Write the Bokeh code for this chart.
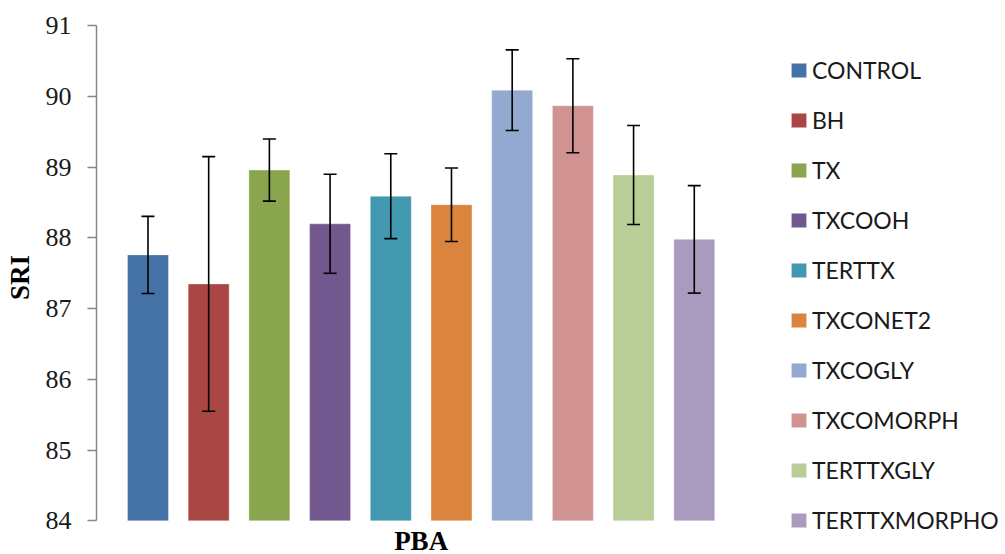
from bokeh.plotting import figure
from bokeh.models import (ColumnDataSource, Range1d, FixedTicker, Whisker, TeeHead,
                          Legend, LegendItem, Label)
from bokeh.embed import file_html
from bokeh.resources import INLINE

categories = ["CONTROL", "BH", "TX", "TXCOOH", "TERTTX", "TXCONET2",
              "TXCOGLY", "TXCOMORPH", "TERTTXGLY", "TERTTXMORPHO"]
sri = [87.76, 87.35, 88.96, 88.20, 88.59, 88.47, 90.09, 89.87, 88.89, 87.98]
sd = [0.545, 1.80, 0.44, 0.70, 0.60, 0.52, 0.57, 0.665, 0.70, 0.76]
colors = ["#4572A7", "#AA4643", "#89A54E", "#71588F", "#4198AF",
          "#DB843D", "#93A9CF", "#D19392", "#B9CD96", "#A99BBD"]
y_ticks = [84, 85, 86, 87, 88, 89, 90, 91]
x_title = "PBA"
y_title = "SRI"

src = ColumnDataSource(dict(
    x=list(range(len(categories))),
    top=sri,
    upper=[v + s for v, s in zip(sri, sd)],
    lower=[v - s for v, s in zip(sri, sd)],
    color=colors,
    name=categories,
))

# frame spans from the value axis to the right/bottom edges so that the
# legend and the category label can sit inside it
p = figure(width=1005, height=554, output_backend="svg", toolbar_location=None,
           x_range=Range1d(-0.848, 14.127), y_range=Range1d(83.5234, 91.3578),
           x_axis_location=None,
           min_border_left=96, min_border_right=0, min_border_top=0,
           min_border_bottom=0)
p.outline_line_color = None
p.background_fill_color = "white"
p.border_fill_color = "white"
p.grid.visible = False

yax = p.yaxis[0]
yax.ticker = FixedTicker(ticks=y_ticks)
yax.bounds = (y_ticks[0], y_ticks[-1])
yax.axis_line_color = "#868686"
yax.axis_line_width = 1.5
yax.major_tick_line_color = "#868686"
yax.major_tick_line_width = 1.5
yax.major_tick_out = 9
yax.major_tick_in = 0
yax.minor_tick_line_color = None
yax.major_label_standoff = 16
yax.major_label_text_font = "Liberation Serif"
yax.major_label_text_font_size = "26px"
yax.major_label_text_color = "#1a1a1a"
yax.axis_label = y_title
yax.axis_label_standoff = 8
yax.axis_label_text_font = "Liberation Serif"
yax.axis_label_text_font_style = "bold"
yax.axis_label_text_font_size = "27px"
yax.axis_label_text_color = "black"

r = p.vbar(x="x", top="top", bottom=y_ticks[0], width=0.675, source=src,
           fill_color="color", line_color="white", line_alpha=0.35, line_width=1)

wh = Whisker(base="x", upper="upper", lower="lower", source=src,
             line_color="black", line_width=1.6, level="annotation",
             upper_head=TeeHead(size=13, line_color="black", line_width=1.6),
             lower_head=TeeHead(size=13, line_color="black", line_width=1.6))
p.add_layout(wh)

# category label centred under the group of bars
p.add_layout(Label(x=(len(categories) - 1) / 2, y=14, x_units="data", y_units="screen",
                   text=x_title, text_font="Liberation Serif", text_font_style="bold",
                   text_font_size="27px", text_align="center",
                   text_baseline="middle", text_color="black"))

items = [LegendItem(label=c, renderers=[r], index=i) for i, c in enumerate(categories)]
legend = Legend(items=items, location=(693, 20), orientation="vertical",
                border_line_color=None, background_fill_alpha=0,
                glyph_width=19, glyph_height=18, label_standoff=4,
                label_text_font="Lato", label_text_font_size="23px",
                label_text_color="#1a1a1a",
                spacing=22, padding=0, margin=0)
p.add_layout(legend)

open("out.html", "w").write(file_html(p, INLINE))
